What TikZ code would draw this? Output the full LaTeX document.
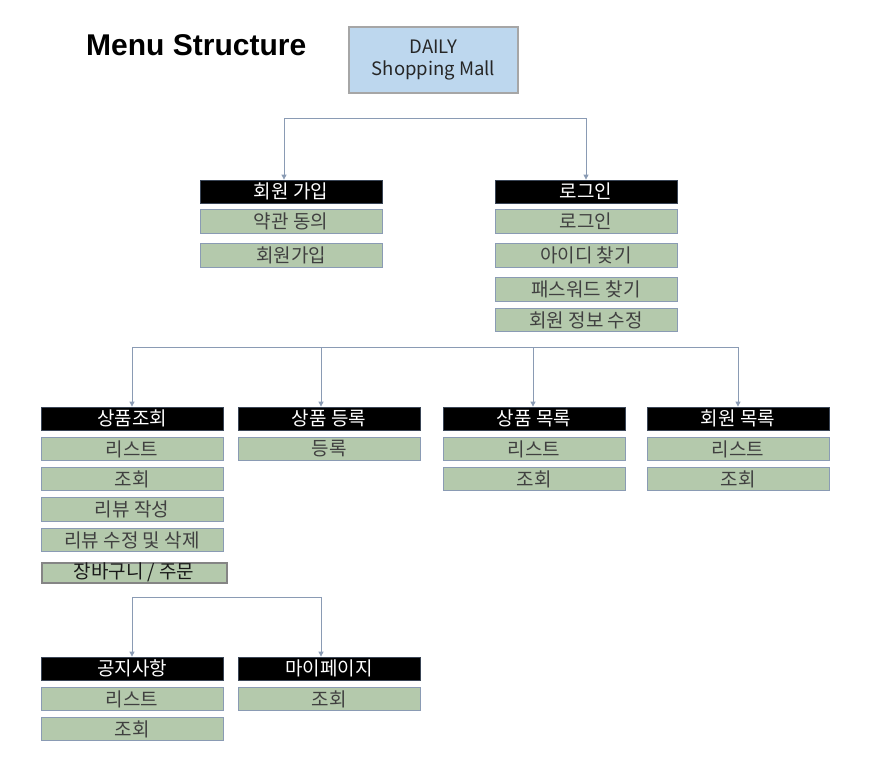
\documentclass[tikz,border=0pt]{standalone}
\usepackage{fontspec}
\setmainfont{Noto Sans CJK KR}
\newfontfamily\titlefont{Liberation Sans}
\usetikzlibrary{arrows.meta}
\definecolor{boxblue}{HTML}{BDD7EE}
\definecolor{boxgray}{HTML}{A6A6A6}
\definecolor{itemgreen}{HTML}{B4C9AC}
\definecolor{itemedge}{HTML}{8A9BB4}
\definecolor{itemtext}{HTML}{404040}
\definecolor{connc}{HTML}{8A9BB4}
\definecolor{hdredge}{HTML}{3A4556}
\tikzset{
  hdr/.style={draw=hdredge, line width=0.8pt, fill=black, text=white, minimum width=182pt, minimum height=23pt, inner sep=0pt, font=\fontsize{19}{20}\selectfont},
  item/.style={draw=itemedge, line width=0.8pt, fill=itemgreen, text=itemtext, minimum width=182pt, minimum height=23.5pt, inner sep=0pt, font=\fontsize{19}{20}\selectfont},
  itemthick/.style={draw=boxgray!80!black, line width=2pt, fill=itemgreen, text=black!90, minimum width=185pt, minimum height=20pt, inner sep=0pt, font=\fontsize{19}{20}\selectfont},
  conn/.style={draw=connc, line width=0.8pt},
  arr/.style={conn, -{Triangle[width=5pt,length=5pt]}}
}
\begin{document}
\begin{tikzpicture}[x=1pt,y=-1pt]
\useasboundingbox (0,0) rectangle (872,763);
% title
\node[font=\titlefont\bfseries\fontsize{30}{32}\selectfont, anchor=west, inner sep=0pt] (title) at (86,45) {Menu Structure};
% root
\node[draw=boxgray, line width=1.6pt, fill=boxblue, minimum width=169pt, minimum height=66pt, inner sep=0pt, align=center, font=\fontsize{18.5}{22}\selectfont, text=black!85] (root) at (433.5,60) {DAILY\\Shopping Mall};
% level 1
\node[hdr] (join) at (291,191.5) {회원 가입};
\node[item] (j1) at (291,221.5) {약관 동의};
\node[item] (j2) at (291,255.5) {회원가입};
\node[hdr] (login) at (586,191.5) {로그인};
\node[item] (l1) at (586,221.5) {로그인};
\node[item] (l2) at (586,255.5) {아이디 찾기};
\node[item] (l3) at (586,289.5) {패스워드 찾기};
\node[item] (l4) at (586,320) {회원 정보 수정};
\coordinate (a1) at (284,118);
\coordinate (a2) at (586,118);
\draw[conn] (a1) -- (a2);
\draw[arr] (a1) -- (a1 |- join.north);
\draw[arr] (a2) -- (a2 |- login.north);
% level 2
\node[hdr] (pv) at (132,418.5) {상품조회};
\node[item] (pv1) at (132,449) {리스트};
\node[item] (pv2) at (132,479) {조회};
\node[item] (pv3) at (132,509.5) {리뷰 작성};
\node[item] (pv4) at (132,540) {리뷰 수정 및 삭제};
\node[itemthick] (pv5) at (134,572.5) {장바구니 / 주문};
\node[hdr] (pr) at (329,418.5) {상품 등록};
\node[item] (pr1) at (329,449) {등록};
\node[hdr] (pl) at (534,418.5) {상품 목록};
\node[item] (pl1) at (534,449) {리스트};
\node[item] (pl2) at (534,479) {조회};
\node[hdr] (ml) at (738,418.5) {회원 목록};
\node[item] (ml1) at (738,449) {리스트};
\node[item] (ml2) at (738,479) {조회};
\coordinate (b1) at (132,347);
\coordinate (b2) at (321,347);
\coordinate (b3) at (533,347);
\coordinate (b4) at (738,347);
\draw[conn] (b1) -- (b4);
\draw[arr] (b1) -- (b1 |- pv.north);
\draw[arr] (b2) -- (b2 |- pr.north);
\draw[arr] (b3) -- (b3 |- pl.north);
\draw[arr] (b4) -- (b4 |- ml.north);
% level 3
\node[hdr] (nt) at (132,668.5) {공지사항};
\node[item] (nt1) at (132,699) {리스트};
\node[item] (nt2) at (132,729) {조회};
\node[hdr] (mp) at (329,668.5) {마이페이지};
\node[item] (mp1) at (329,699) {조회};
\coordinate (c1) at (132,597);
\coordinate (c2) at (321,597);
\draw[conn] (c1) -- (c2);
\draw[arr] (c1) -- (c1 |- nt.north);
\draw[arr] (c2) -- (c2 |- mp.north);
\end{tikzpicture}
\end{document}
